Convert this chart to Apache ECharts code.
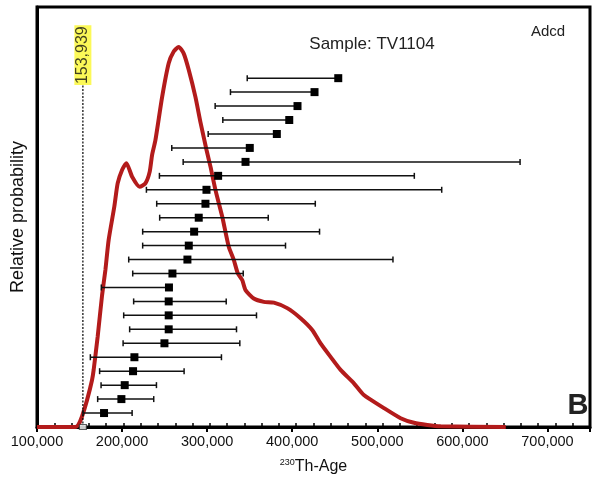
<!DOCTYPE html>
<html><head><meta charset="utf-8">
<script src="https://cdn.jsdelivr.net/npm/echarts@6/dist/echarts.min.js"></script>
<style>html,body{margin:0;padding:0;background:#fff}#c{width:593px;height:481px}</style>
</head><body><div id="c"></div>
<script>
// Probability density curve (age, relative probability)
const curveAge = [100000,145000,148600,152900,158800,164700,166600,171300,176500,180400,184200,190900,194800,200000,205100,211800,220700,227400,232500,235300,239200,247100,254800,260700,266600,272500,278400,286200,292100,299200,303900,309800,317700,325400,331300,336000,341200,345100,354800,366600,378400,394100,409800,423500,433300,445100,456800,472500,484200,507800,527400,543100,558800,574500,651000];
const curveProb = [0,0,0.5,2.5,6.4,11.2,13.6,21.5,31.4,37.4,44.5,52.5,58.0,61.2,62.8,59.6,57.2,58.0,60.8,64.8,68.3,78.6,86.6,89.4,90.5,88.9,85.0,78.6,72.6,66.0,62.0,56.4,50.1,42.9,39.8,36.6,35.0,32.6,30.6,29.8,29.6,28.3,25.9,23.1,19.9,16.7,13.6,10.4,7.6,4.5,2.1,1.0,0.5,0.2,0];

// Individual ages with uncertainty (top row first)
const barLow  = [347100,327400,309400,318400,301200,258400,271800,243900,228600,240700,244200,224200,224200,207800,212500,175600,213600,201900,208900,201200,162700,173600,175300,171300,154100];
const barMean = [454100,426200,406200,396500,381900,350100,345100,312900,299200,298000,290100,284700,278400,276800,259200,255100,254800,254800,254800,249800,214500,212900,203100,199200,178800];
const barHigh = [454100,426200,406200,396500,381900,350100,667800,543500,575700,427100,371800,432100,392100,518400,342400,255100,322400,358000,334500,338400,316800,272900,240400,237200,211800];

const cutoffAge = 153939;
const cutoffLabel = '153,939';
const xTicks = [100000,200000,300000,400000,500000,600000,700000];

const curveData = curveAge.map((a,i)=>[a,curveProb[i]]);
const n = barLow.length;
const barData = barLow.map((l,i)=>[l,barMean[i],barHigh[i],n-i]);

const chart = echarts.init(document.getElementById('c'));
const FONT = 'Liberation Sans, Arial, sans-serif';
chart.setOption({
  animation:false,
  backgroundColor:'#fff',
  grid:{left:37,right:3,top:7,bottom:54,show:true,borderColor:'#000',borderWidth:3,backgroundColor:'transparent'},
  xAxis:[{
    type:'value',min:100000,max:750000,interval:100000,position:'bottom',
    axisLine:{show:true,onZero:false,lineStyle:{color:'#000',width:3}},
    axisTick:{show:true,inside:false,length:5,lineStyle:{color:'#000',width:2}},
    splitLine:{show:false},
    axisLabel:{color:'#111',fontSize:14.5,fontFamily:FONT,margin:7,
      formatter:v=>xTicks.includes(v)?v.toLocaleString('en-US'):''},
    name:'{sup|230}{n|Th-Age}',nameLocation:'middle',nameGap:31,
    nameTextStyle:{rich:{sup:{fontSize:9,fontFamily:FONT,color:'#111',verticalAlign:'top',padding:[0,0,8,0]},n:{fontSize:16,fontFamily:FONT,color:'#111'}}}
  },{
    type:'value',min:100000,max:740000,interval:20000,position:'bottom',
    axisLine:{show:false},axisLabel:{show:false},splitLine:{show:false},
    axisTick:{show:true,inside:true,length:4,lineStyle:{color:'#000',width:1.5}}
  }],
  yAxis:[{
    type:'value',min:0,max:100,
    axisLine:{show:true,lineStyle:{color:'#000',width:3}},axisTick:{show:false},axisLabel:{show:false},splitLine:{show:false},
    name:'Relative probability',nameLocation:'middle',nameGap:10,
    nameTextStyle:{fontSize:18,fontFamily:FONT,color:'#111'}
  },{
    type:'value',min:0,max:30.1,show:false
  }],
  graphic:[
    {type:'text',x:372,y:44,style:{text:'Sample: TV1104',font:'17px '+FONT,fill:'#222',align:'center',verticalAlign:'middle'}},
    {type:'text',x:548,y:32,style:{text:'Adcd',font:'15px '+FONT,fill:'#222',align:'center',verticalAlign:'middle'}},
    {type:'text',x:578,y:406,style:{text:'B',font:'bold 29px '+FONT,fill:'#222',align:'center',verticalAlign:'middle'}}
  ],
  series:[
    {type:'line',data:curveData,xAxisIndex:0,yAxisIndex:0,symbol:'none',clip:false,z:3,
      lineStyle:{color:'#b31b1b',width:4},smooth:0.2},
    {type:'line',data:[[cutoffAge,0],[cutoffAge,81.4]],xAxisIndex:0,yAxisIndex:0,symbol:'none',clip:false,z:4,
      lineStyle:{color:'#000',width:1.2,type:[2,1.5]}},
    {type:'scatter',data:[[cutoffAge,81.4]],xAxisIndex:0,yAxisIndex:0,symbolSize:0,z:6,
      label:{show:true,formatter:cutoffLabel,position:'top',distance:0,rotate:90,align:'left',verticalAlign:'middle',
        backgroundColor:'#fbf72e',color:'#111',fontSize:16,fontFamily:FONT,padding:[1,1,0,1]}},
    {type:'scatter',data:[[cutoffAge,0]],xAxisIndex:0,yAxisIndex:0,symbol:'rect',symbolSize:[7,5],z:6,clip:false,
      itemStyle:{color:'#fff',borderColor:'#333',borderWidth:1}},
    {type:'custom',xAxisIndex:0,yAxisIndex:1,z:5,data:barData,clip:false,
      renderItem:function(params,api){
        const r=api.value(3);
        const pL=api.coord([api.value(0),r]);
        const pM=api.coord([api.value(1),r]);
        const pH=api.coord([api.value(2),r]);
        const st={stroke:'#111',lineWidth:1.5};
        return {type:'group',children:[
          {type:'line',shape:{x1:pL[0],y1:pL[1],x2:pH[0],y2:pH[1]},style:st},
          {type:'line',shape:{x1:pL[0],y1:pL[1]-3,x2:pL[0],y2:pL[1]+3},style:st},
          {type:'line',shape:{x1:pH[0],y1:pH[1]-3,x2:pH[0],y2:pH[1]+3},style:st},
          {type:'rect',shape:{x:pM[0]-4,y:pM[1]-4,width:8,height:8},style:{fill:'#000'}}
        ]};
      }}
  ]
});
</script>
</body></html>
